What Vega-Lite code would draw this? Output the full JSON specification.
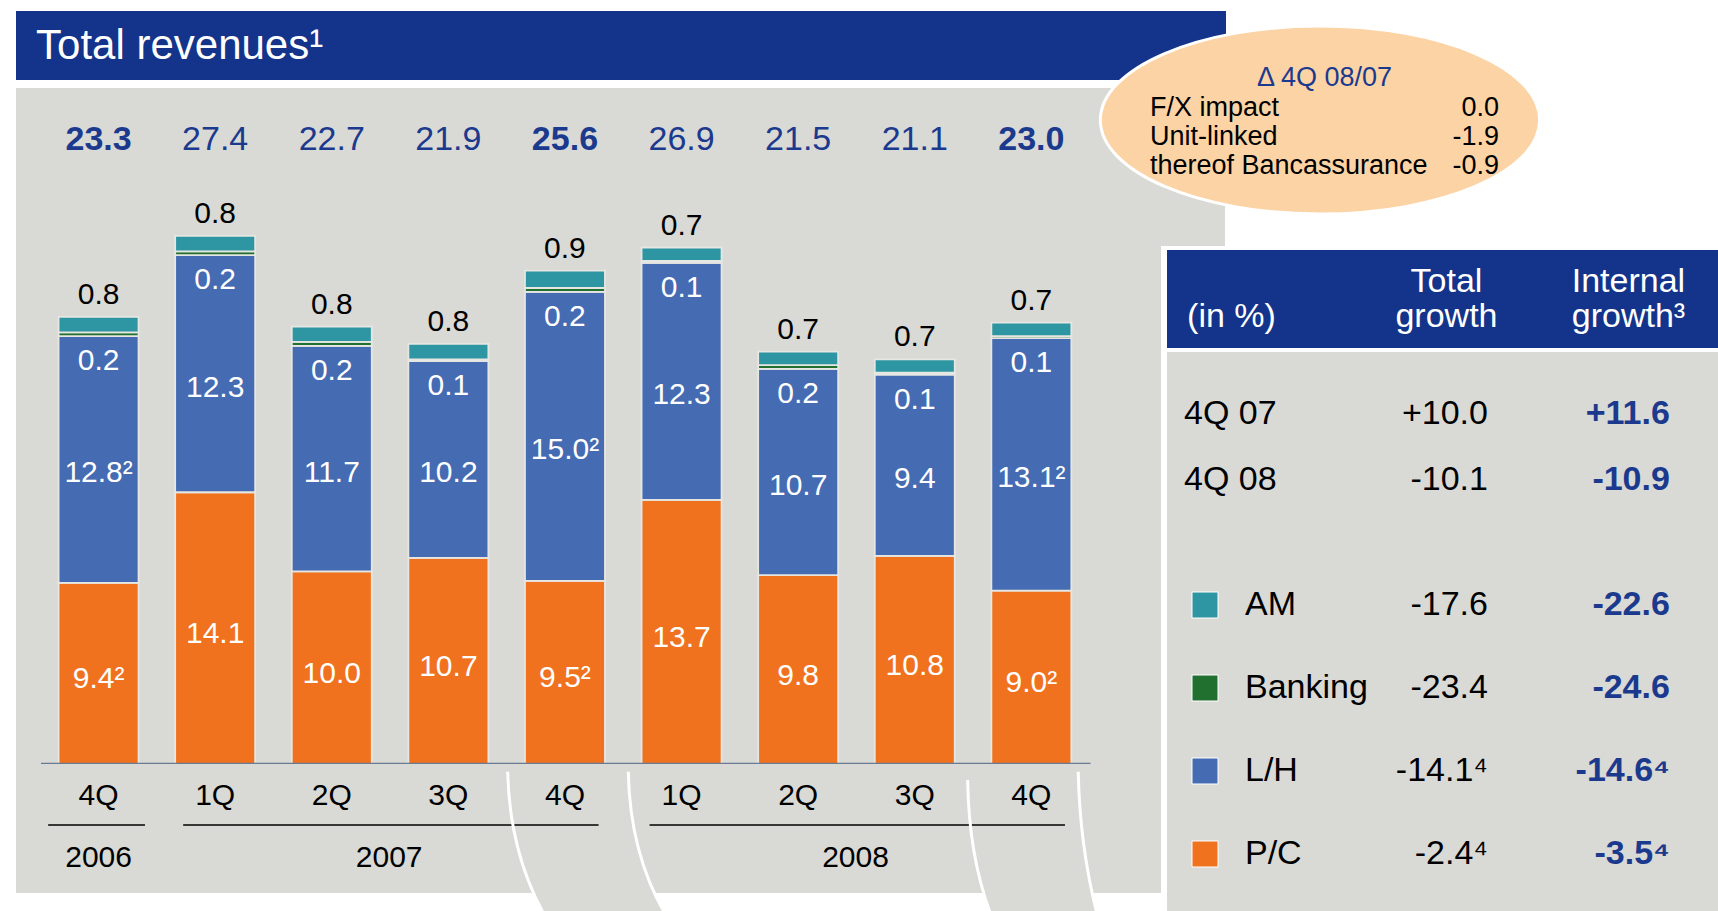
{
"$schema": "https://vega.github.io/schema/vega-lite/v6.json",
"background": "white",
"padding": {"left": 16, "top": 11, "right": 0, "bottom": 0},
"config": {"view": {"stroke": null}, "font": "Liberation Sans"},
"datasets": {
 "rev": [
  {"q":"4Q06","seg":"P/C","value":9.4,"label":"9.4²"},
  {"q":"4Q06","seg":"L/H","value":12.8,"label":"12.8²"},
  {"q":"4Q06","seg":"Banking","value":0.2,"label":"0.2"},
  {"q":"4Q06","seg":"AM","value":0.8,"label":"0.8"},
  {"q":"1Q07","seg":"P/C","value":14.1,"label":"14.1"},
  {"q":"1Q07","seg":"L/H","value":12.3,"label":"12.3"},
  {"q":"1Q07","seg":"Banking","value":0.2,"label":"0.2"},
  {"q":"1Q07","seg":"AM","value":0.8,"label":"0.8"},
  {"q":"2Q07","seg":"P/C","value":10.0,"label":"10.0"},
  {"q":"2Q07","seg":"L/H","value":11.7,"label":"11.7"},
  {"q":"2Q07","seg":"Banking","value":0.2,"label":"0.2"},
  {"q":"2Q07","seg":"AM","value":0.8,"label":"0.8"},
  {"q":"3Q07","seg":"P/C","value":10.7,"label":"10.7"},
  {"q":"3Q07","seg":"L/H","value":10.2,"label":"10.2"},
  {"q":"3Q07","seg":"Banking","value":0.1,"label":"0.1"},
  {"q":"3Q07","seg":"AM","value":0.8,"label":"0.8"},
  {"q":"4Q07","seg":"P/C","value":9.5,"label":"9.5²"},
  {"q":"4Q07","seg":"L/H","value":15.0,"label":"15.0²"},
  {"q":"4Q07","seg":"Banking","value":0.2,"label":"0.2"},
  {"q":"4Q07","seg":"AM","value":0.9,"label":"0.9"},
  {"q":"1Q08","seg":"P/C","value":13.7,"label":"13.7"},
  {"q":"1Q08","seg":"L/H","value":12.3,"label":"12.3"},
  {"q":"1Q08","seg":"Banking","value":0.1,"label":"0.1"},
  {"q":"1Q08","seg":"AM","value":0.7,"label":"0.7"},
  {"q":"2Q08","seg":"P/C","value":9.8,"label":"9.8"},
  {"q":"2Q08","seg":"L/H","value":10.7,"label":"10.7"},
  {"q":"2Q08","seg":"Banking","value":0.2,"label":"0.2"},
  {"q":"2Q08","seg":"AM","value":0.7,"label":"0.7"},
  {"q":"3Q08","seg":"P/C","value":10.8,"label":"10.8"},
  {"q":"3Q08","seg":"L/H","value":9.4,"label":"9.4"},
  {"q":"3Q08","seg":"Banking","value":0.1,"label":"0.1"},
  {"q":"3Q08","seg":"AM","value":0.7,"label":"0.7"},
  {"q":"4Q08","seg":"P/C","value":9.0,"label":"9.0²"},
  {"q":"4Q08","seg":"L/H","value":13.1,"label":"13.1²"},
  {"q":"4Q08","seg":"Banking","value":0.1,"label":"0.1"},
  {"q":"4Q08","seg":"AM","value":0.7,"label":"0.7"}
 ],
 "quarters": [
  {"q":"4Q06","ql":"4Q","total":23.3},
  {"q":"1Q07","ql":"1Q","total":27.4},
  {"q":"2Q07","ql":"2Q","total":22.7},
  {"q":"3Q07","ql":"3Q","total":21.9},
  {"q":"4Q07","ql":"4Q","total":25.6},
  {"q":"1Q08","ql":"1Q","total":26.9},
  {"q":"2Q08","ql":"2Q","total":21.5},
  {"q":"3Q08","ql":"3Q","total":21.1},
  {"q":"4Q08","ql":"4Q","total":23.0}
 ],
 "years": [
  {"year":"2006","first":"4Q06","last":"4Q06"},
  {"year":"2007","first":"1Q07","last":"4Q07"},
  {"year":"2008","first":"1Q08","last":"4Q08"}
 ],
 "bubble": [
  {"line":"title","col":"mid","text":"Δ 4Q 08/07"},
  {"line":"fx","col":"label","text":"F/X impact"},
  {"line":"fx","col":"value","text":"0.0"},
  {"line":"ul","col":"label","text":"Unit-linked"},
  {"line":"ul","col":"value","text":"-1.9"},
  {"line":"banc","col":"label","text":"thereof Bancassurance"},
  {"line":"banc","col":"value","text":"-0.9"}
 ],
 "header": [
  {"col":"name","line":"l2","text":"(in %)"},
  {"col":"total","line":"l1","text":"Total"},
  {"col":"total","line":"l2","text":"growth"},
  {"col":"internal","line":"l1","text":"Internal"},
  {"col":"internal","line":"l2","text":"growth³"}
 ],
 "table": [
  {"row":"4Q 07","grp":"period","total":"+10.0","internal":"+11.6"},
  {"row":"4Q 08","grp":"period","total":"-10.1","internal":"-10.9"},
  {"row":"AM","grp":"seg","total":"-17.6","internal":"-22.6"},
  {"row":"Banking","grp":"seg","total":"-23.4","internal":"-24.6"},
  {"row":"L/H","grp":"seg","total":"-14.1⁴","internal":"-14.6⁴"},
  {"row":"P/C","grp":"seg","total":"-2.4⁴","internal":"-3.5⁴"}
 ],
 "blank": [{"t": ""}]
},
"bounds": "flush",
"spacing": 1082,
"hconcat": [
 {"spacing": 8, "vconcat": [
  {"width": 1145, "height": 69, "view": {"fill": "#13348A", "stroke": null},
   "data": {"values": [{"t": "Total revenues¹"}]},
   "mark": {"type": "text", "align": "left", "baseline": "middle", "fontSize": 42, "fill": "white"},
   "encoding": {"x": {"field": "t", "type": "nominal", "axis": null, "scale": {"type": "point", "align": 0.0175}}, "text": {"field": "t"}}},
  {"bounds": "flush", "spacing": 0, "vconcat": [
   {"width": 1145, "height": 104, "view": {"fill": "#D9D9D5", "stroke": null},
    "data": {"name": "quarters"},
    "layer": [
     {"transform": [{"filter": "datum.ql == '4Q'"}],
      "mark": {"type": "text", "fontSize": 34, "fontWeight": "bold", "fill": "#1B3A8E", "baseline": "middle"},
      "encoding": {"x": {"field": "q", "type": "nominal", "axis": null, "scale": {"type": "band", "domain": ["4Q06","1Q07","2Q07","3Q07","4Q07","1Q08","2Q08","3Q08","4Q08"], "paddingInner": 0.314, "paddingOuter": 0.567, "align": 0.322}}, "text": {"field": "total", "type": "quantitative", "format": ".1f"}}},
     {"transform": [{"filter": "datum.ql != '4Q'"}],
      "mark": {"type": "text", "fontSize": 34, "fontWeight": "normal", "fill": "#1B3A8E", "baseline": "middle"},
      "encoding": {"x": {"field": "q", "type": "nominal", "axis": null}, "text": {"field": "total", "type": "quantitative", "format": ".1f"}}}
    ]},
   {"width": 1145, "height": 572, "view": {"fill": "#D9D9D5", "stroke": null},
    "layer": [
     {"data": {"name": "rev"},
      "transform": [{"stack": "value", "groupby": ["q"], "sort": [{"field": "seg", "order": "descending"}], "as": ["v0", "v1"]}],
      "mark": {"type": "bar", "stroke": "#E6E6E2", "strokeWidth": 1.8},
      "encoding": {
       "x": {"field": "q", "type": "nominal", "axis": null, "scale": {"type": "band", "domain": ["4Q06","1Q07","2Q07","3Q07","4Q07","1Q08","2Q08","3Q08","4Q08"], "paddingInner": 0.314, "paddingOuter": 0.567, "align": 0.322}},
       "y": {"field": "v0", "type": "quantitative", "axis": null, "scale": {"domain": [0, 29.68], "nice": false, "zero": true}},
       "y2": {"field": "v1"},
       "color": {"field": "seg", "type": "nominal", "legend": null, "scale": {"domain": ["AM","Banking","L/H","P/C"], "range": ["#2E96A2","#22702F","#456BB3","#F0721E"]}}}},
     {"data": {"name": "rev"},
      "transform": [{"stack": "value", "groupby": ["q"], "sort": [{"field": "seg", "order": "descending"}], "as": ["v0", "v1"]}, {"filter": "datum.seg == 'AM'"}],
      "mark": {"type": "text", "fontSize": 30, "fill": "black", "baseline": "middle", "dy": -22},
      "encoding": {"x": {"field": "q", "type": "nominal", "axis": null}, "y": {"field": "v1", "type": "quantitative", "axis": null}, "text": {"field": "label"}}},
     {"data": {"name": "rev"},
      "transform": [{"stack": "value", "groupby": ["q"], "sort": [{"field": "seg", "order": "descending"}], "as": ["v0", "v1"]}, {"filter": "datum.seg == 'Banking'"}],
      "mark": {"type": "text", "fontSize": 30, "fill": "white", "baseline": "middle", "dy": 25},
      "encoding": {"x": {"field": "q", "type": "nominal", "axis": null}, "y": {"field": "v0", "type": "quantitative", "axis": null}, "text": {"field": "label"}}},
     {"data": {"name": "rev"},
      "transform": [{"stack": "value", "groupby": ["q"], "sort": [{"field": "seg", "order": "descending"}], "as": ["v0", "v1"]}, {"filter": "datum.seg == 'L/H'"}, {"fold": ["v0", "v1"], "as": ["k", "pos"]}, {"aggregate": [{"op": "mean", "field": "pos", "as": "mid"}], "groupby": ["q", "seg", "label"]}],
      "mark": {"type": "text", "fontSize": 30, "fill": "white", "baseline": "middle", "dy": 14},
      "encoding": {"x": {"field": "q", "type": "nominal", "axis": null}, "y": {"field": "mid", "type": "quantitative", "axis": null}, "text": {"field": "label"}}},
     {"data": {"name": "rev"},
      "transform": [{"stack": "value", "groupby": ["q"], "sort": [{"field": "seg", "order": "descending"}], "as": ["v0", "v1"]}, {"filter": "datum.seg == 'P/C'"}, {"fold": ["v0", "v1"], "as": ["k", "pos"]}, {"aggregate": [{"op": "mean", "field": "pos", "as": "mid"}], "groupby": ["q", "seg", "label"]}],
      "mark": {"type": "text", "fontSize": 30, "fill": "white", "baseline": "middle", "dy": 6},
      "encoding": {"x": {"field": "q", "type": "nominal", "axis": null}, "y": {"field": "mid", "type": "quantitative", "axis": null}, "text": {"field": "label"}}},
     {"data": {"values": [{"first": "4Q06", "last": "4Q08"}]},
      "mark": {"type": "rule", "color": "#6B7A93", "strokeWidth": 2.5},
      "encoding": {"x": {"field": "first", "type": "nominal", "axis": null, "bandPosition": -0.22}, "x2": {"field": "last", "bandPosition": 1.24}, "y": {"datum": 0, "type": "quantitative"}}}
    ]},
   {"width": 1145, "height": 58, "view": {"fill": "#D9D9D5", "stroke": null},
    "data": {"name": "quarters"},
    "mark": {"type": "text", "fontSize": 30, "fill": "black", "baseline": "middle", "dy": 3},
    "encoding": {"x": {"field": "q", "type": "nominal", "axis": null, "scale": {"type": "band", "domain": ["4Q06","1Q07","2Q07","3Q07","4Q07","1Q08","2Q08","3Q08","4Q08"], "paddingInner": 0.314, "paddingOuter": 0.567, "align": 0.322}}, "text": {"field": "ql"}}},
   {"width": 1145, "height": 6, "view": {"fill": "#D9D9D5", "stroke": null},
    "data": {"name": "years"},
    "layer": [
     {"transform": [{"filter": "datum.first == datum.last"}],
      "mark": {"type": "rule", "color": "black", "strokeWidth": 1.5},
      "encoding": {"x": {"field": "first", "type": "nominal", "axis": null, "bandPosition": -0.13, "scale": {"type": "band", "domain": ["4Q06","1Q07","2Q07","3Q07","4Q07","1Q08","2Q08","3Q08","4Q08"], "paddingInner": 0.314, "paddingOuter": 0.567, "align": 0.322}}, "x2": {"field": "last", "bandPosition": 1.08}}},
     {"transform": [{"filter": "datum.first != datum.last"}],
      "mark": {"type": "rule", "color": "black", "strokeWidth": 1.5},
      "encoding": {"x": {"field": "first", "type": "nominal", "axis": null, "bandPosition": 0.1}, "x2": {"field": "last", "bandPosition": 0.92}}}
    ]},
   {"width": 1145, "height": 65, "view": {"fill": "#D9D9D5", "stroke": null},
    "layer": [
     {"data": {"name": "years"},
      "transform": [{"filter": "datum.first == datum.last"}],
      "mark": {"type": "text", "fontSize": 30, "fill": "black", "baseline": "middle", "dy": -3},
      "encoding": {"x": {"field": "first", "type": "nominal", "axis": null, "bandPosition": 0.5, "scale": {"type": "band", "domain": ["4Q06","1Q07","2Q07","3Q07","4Q07","1Q08","2Q08","3Q08","4Q08"], "paddingInner": 0.314, "paddingOuter": 0.567, "align": 0.322}}, "text": {"field": "year"}}},
     {"data": {"name": "years"},
      "transform": [{"filter": "datum.first != datum.last"}],
      "mark": {"type": "text", "fontSize": 30, "fill": "black", "baseline": "middle", "dy": -3},
      "encoding": {"x": {"field": "first", "type": "nominal", "axis": null, "bandPosition": 2.675}, "text": {"field": "year"}}},
     {"data": {"name": "quarters"},
      "transform": [{"filter": "datum.q == '4Q07'"}],
      "mark": {"type": "point", "shape": "M-0.305,0.325L-0.215,0.53L1.0,0.53L0.905,0.325Z", "size": 40000, "filled": true, "fill": "#D9D9D5", "opacity": 1, "strokeWidth": 0},
      "encoding": {"x": {"field": "q", "type": "nominal", "axis": null}}},
     {"data": {"name": "quarters"},
      "transform": [{"filter": "datum.q == '4Q07'"}],
      "mark": {"type": "point", "shape": "M-0.573,-0.888C-0.56,-0.3,-0.42,0.15,-0.215,0.53M0.633,-0.888C0.645,-0.3,0.78,0.15,1.0,0.53", "size": 40000, "filled": false, "stroke": "white", "strokeWidth": 3, "opacity": 1},
      "encoding": {"x": {"field": "q", "type": "nominal", "axis": null}}},
     {"data": {"name": "quarters"},
      "transform": [{"filter": "datum.q == '4Q08'"}],
      "mark": {"type": "point", "shape": "M-0.485,0.325L-0.41,0.53L0.655,0.53L0.62,0.325Z", "size": 40000, "filled": true, "fill": "#D9D9D5", "opacity": 1, "strokeWidth": 0},
      "encoding": {"x": {"field": "q", "type": "nominal", "axis": null}}},
     {"data": {"name": "quarters"},
      "transform": [{"filter": "datum.q == '4Q08'"}],
      "mark": {"type": "point", "shape": "M-0.637,-0.805C-0.63,-0.3,-0.55,0.15,-0.41,0.53M0.469,-0.888C0.48,-0.3,0.56,0.15,0.655,0.53", "size": 40000, "filled": false, "stroke": "white", "strokeWidth": 3, "opacity": 1},
      "encoding": {"x": {"field": "q", "type": "nominal", "axis": null}}}
    ]}
  ]}
 ]},
 {"spacing": 4, "vconcat": [
  {"bounds": "flush", "spacing": 0, "hconcat": [
   {"spacing": 0, "hconcat": [
    {"width": 63, "height": 235, "data": {"name": "blank"}, "mark": {"type": "text"}, "encoding": {"text": {"field": "t"}}},
    {"spacing": 8, "vconcat": [
     {"width": 65, "height": 69, "view": {"fill": "#13348A", "stroke": null},
      "data": {"name": "blank"}, "mark": {"type": "text"}, "encoding": {"text": {"field": "t"}}},
     {"width": 64, "height": 158, "view": {"fill": "#D9D9D5", "stroke": null},
      "data": {"name": "blank"}, "mark": {"type": "text"}, "encoding": {"text": {"field": "t"}}}
    ]}
   ]},
   {"width": 444, "height": 218,
    "data": {"name": "bubble"},
    "layer": [
     {"transform": [{"filter": "datum.col == 'mid'"}],
      "mark": {"type": "point", "shape": "M-1,0A1,0.428,0,1,1,1,0A1,0.428,0,1,1,-1,0Z", "size": 193000, "filled": true, "fill": "#FCD3A5", "opacity": 1, "stroke": "white", "strokeWidth": 3},
      "encoding": {}},
     {"transform": [{"filter": "datum.col == 'mid'"}],
      "mark": {"type": "text", "fontSize": 27, "fill": "#1B3A8E", "align": "center", "baseline": "middle"},
      "encoding": {"x": {"field": "col", "type": "nominal", "axis": null, "scale": {"type": "point", "domain": ["label","mid","value"], "padding": 0.272, "align": 0.547}}, "y": {"field": "line", "type": "nominal", "axis": null, "scale": {"type": "point", "domain": ["_a","_b","title","fx","ul","banc","_c","_d"], "padding": 0.22, "align": 0.69}}, "text": {"field": "text"}}},
     {"transform": [{"filter": "datum.col == 'label'"}],
      "mark": {"type": "text", "fontSize": 27, "fill": "black", "align": "left", "baseline": "middle"},
      "encoding": {"x": {"field": "col", "type": "nominal", "axis": null}, "y": {"field": "line", "type": "nominal", "axis": null}, "text": {"field": "text"}}},
     {"transform": [{"filter": "datum.col == 'value'"}],
      "mark": {"type": "text", "fontSize": 27, "fill": "black", "align": "right", "baseline": "middle"},
      "encoding": {"x": {"field": "col", "type": "nominal", "axis": null}, "y": {"field": "line", "type": "nominal", "axis": null}, "text": {"field": "text"}}}
    ]}
  ]},
  {"spacing": 0, "hconcat": [
   {"width": 69, "height": 98, "data": {"name": "blank"}, "mark": {"type": "text"}, "encoding": {"text": {"field": "t"}}},
   {"width": 551, "height": 98, "view": {"fill": "#13348A", "stroke": null},
    "data": {"name": "header"},
    "layer": [
     {"transform": [{"filter": "datum.col == 'name'"}],
      "mark": {"type": "text", "fontSize": 34, "fill": "white", "align": "left", "baseline": "middle"},
      "encoding": {"x": {"field": "col", "type": "nominal", "axis": null, "bandPosition": 0.025, "scale": {"type": "band", "domain": ["name","total","internal"], "paddingInner": 0.33, "paddingOuter": 0.179, "align": 0.2615}}, "y": {"field": "line", "type": "nominal", "axis": null, "scale": {"type": "point", "domain": ["l1","l2"], "padding": 0.9}}, "text": {"field": "text"}}},
     {"transform": [{"filter": "datum.col != 'name'"}],
      "mark": {"type": "text", "fontSize": 34, "fill": "white", "align": "center", "baseline": "middle"},
      "encoding": {"x": {"field": "col", "type": "nominal", "axis": null, "bandPosition": 0.66}, "y": {"field": "line", "type": "nominal", "axis": null}, "text": {"field": "text"}}}
    ]}
  ]},
  {"spacing": 0, "hconcat": [
   {"width": 69, "height": 559, "data": {"name": "blank"}, "mark": {"type": "text"}, "encoding": {"text": {"field": "t"}}},
   {"spacing": 0, "vconcat": [
    {"width": 551, "height": 190, "view": {"fill": "#D9D9D5", "stroke": null},
     "data": {"name": "table"},
     "transform": [{"filter": "datum.grp == 'period'"}],
     "layer": [
      {"mark": {"type": "text", "fontSize": 34, "fill": "black", "align": "left", "baseline": "middle"},
       "encoding": {"x": {"datum": "name", "type": "nominal", "axis": null, "bandPosition": 0, "scale": {"type": "band", "domain": ["name","total","internal"], "paddingInner": 0.33, "paddingOuter": 0.179, "align": 0.2615}}, "y": {"field": "row", "type": "nominal", "axis": null, "scale": {"type": "point", "domain": ["4Q 07","4Q 08"], "padding": 0.96}}, "text": {"field": "row"}}},
      {"mark": {"type": "text", "fontSize": 34, "fill": "black", "align": "right", "baseline": "middle"},
       "encoding": {"x": {"datum": "total", "type": "nominal", "axis": null, "bandPosition": 1}, "y": {"field": "row", "type": "nominal", "axis": null}, "text": {"field": "total"}}},
      {"mark": {"type": "text", "fontSize": 34, "fontWeight": "bold", "fill": "#1B3A8E", "align": "right", "baseline": "middle"},
       "encoding": {"x": {"datum": "internal", "type": "nominal", "axis": null, "bandPosition": 1}, "y": {"field": "row", "type": "nominal", "axis": null}, "text": {"field": "internal"}}}
     ]},
    {"width": 551, "height": 369, "view": {"fill": "#D9D9D5", "stroke": null},
     "data": {"name": "table"},
     "transform": [{"filter": "datum.grp == 'seg'"}],
     "layer": [
      {"mark": {"type": "point", "shape": "square", "size": 676, "filled": true, "opacity": 1, "stroke": "white", "strokeWidth": 1},
       "encoding": {"x": {"datum": "name", "type": "nominal", "axis": null, "bandPosition": 0.172, "scale": {"type": "band", "domain": ["name","total","internal"], "paddingInner": 0.33, "paddingOuter": 0.179, "align": 0.2615}}, "y": {"field": "row", "type": "nominal", "axis": null, "scale": {"type": "point", "domain": ["AM","Banking","L/H","P/C"], "padding": 0.723, "align": 0.525}}, "color": {"field": "row", "type": "nominal", "legend": null, "scale": {"domain": ["AM","Banking","L/H","P/C"], "range": ["#2E96A2","#22702F","#456BB3","#F0721E"]}}}},
      {"mark": {"type": "text", "fontSize": 34, "fill": "black", "align": "left", "baseline": "middle"},
       "encoding": {"x": {"datum": "name", "type": "nominal", "axis": null, "bandPosition": 0.5}, "y": {"field": "row", "type": "nominal", "axis": null}, "text": {"field": "row"}}},
      {"mark": {"type": "text", "fontSize": 34, "fill": "black", "align": "right", "baseline": "middle"},
       "encoding": {"x": {"datum": "total", "type": "nominal", "axis": null, "bandPosition": 1}, "y": {"field": "row", "type": "nominal", "axis": null}, "text": {"field": "total"}}},
      {"mark": {"type": "text", "fontSize": 34, "fontWeight": "bold", "fill": "#1B3A8E", "align": "right", "baseline": "middle"},
       "encoding": {"x": {"datum": "internal", "type": "nominal", "axis": null, "bandPosition": 1}, "y": {"field": "row", "type": "nominal", "axis": null}, "text": {"field": "internal"}}}
     ]}
   ]}
  ]}
 ]}
]
}
